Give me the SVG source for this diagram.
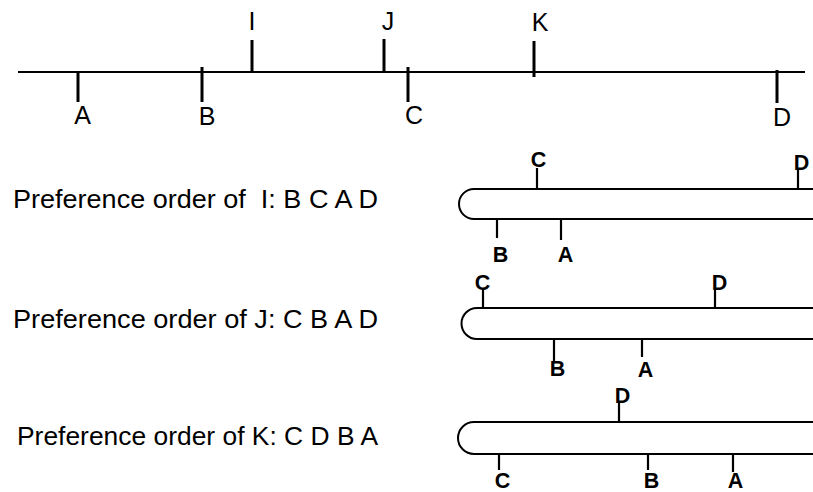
<svg xmlns="http://www.w3.org/2000/svg" width="813" height="492" viewBox="0 0 813 492">
<style>
.ln{stroke:#000;stroke-width:2;fill:none}
.tk{stroke:#000;stroke-width:3;fill:none}
.tk2{stroke:#000;stroke-width:2.2;fill:none}
.lb{font-family:"Liberation Sans",Arial,sans-serif;font-size:25px;fill:#000;text-anchor:middle}
.hl{font-family:"Liberation Sans",Arial,sans-serif;font-size:21.5px;font-weight:bold;fill:#000;text-anchor:middle}
.pt{font-family:"Liberation Sans",Arial,sans-serif;font-size:25px;fill:#000}
</style>
<rect width="813" height="492" fill="#fff"/>
<g id="axis">
<line class="ln" x1="18" y1="72" x2="805" y2="72"/>
<g id="A"><line class="tk" x1="78" y1="71" x2="78" y2="102"/><text class="lb" x="82.5" y="124">A</text></g>
<g id="B"><line class="tk" x1="202" y1="67" x2="202" y2="102"/><text class="lb" x="207" y="125">B</text></g>
<g id="I"><line class="tk" x1="252" y1="40" x2="252" y2="73"/><text class="lb" x="252" y="30">I</text></g>
<g id="J"><line class="tk" x1="384" y1="39" x2="384" y2="73"/><text class="lb" x="388" y="30">J</text></g>
<g id="C"><line class="tk" x1="408" y1="67" x2="408" y2="102"/><text class="lb" x="414" y="124">C</text></g>
<g id="K"><line class="tk" x1="534" y1="41" x2="534" y2="77"/><text class="lb" x="540" y="31">K</text></g>
<g id="D"><line class="tk" x1="777" y1="70" x2="777" y2="103"/><text class="lb" x="782" y="126">D</text></g>
</g>
<g id="prefI">
<text class="pt" x="13" y="208" textLength="365" lengthAdjust="spacingAndGlyphs" xml:space="preserve">Preference order of  I: B C A D</text>
<path class="ln" d="M813,189 H474 A15,15 0 0 0 474,219 H813"/>
<line class="tk2" x1="537" y1="168" x2="537" y2="189"/><text class="hl" x="538.5" y="167">C</text>
<line class="tk2" x1="798" y1="170" x2="798" y2="189"/><text class="hl" x="801.5" y="170">D</text>
<line class="tk2" x1="497" y1="219" x2="497" y2="238"/><text class="hl" x="500.5" y="262">B</text>
<line class="tk2" x1="561" y1="218" x2="561" y2="240"/><text class="hl" x="565.5" y="262">A</text>
</g>
<g id="prefJ">
<text class="pt" x="13" y="328" textLength="365" lengthAdjust="spacingAndGlyphs">Preference order of J: C B A D</text>
<path class="ln" d="M813,308 H477 A15.5,15.5 0 0 0 477,339 H813"/>
<line class="tk2" x1="483" y1="290" x2="483" y2="308"/><text class="hl" x="482.5" y="290">C</text>
<line class="tk2" x1="715" y1="290" x2="715" y2="308"/><text class="hl" x="719.5" y="290">D</text>
<line class="tk2" x1="554" y1="339" x2="554" y2="363"/><text class="hl" x="557.5" y="376">B</text>
<line class="tk2" x1="642" y1="339" x2="642" y2="357"/><text class="hl" x="645.5" y="377">A</text>
</g>
<g id="prefK">
<text class="pt" x="17" y="445" textLength="361" lengthAdjust="spacingAndGlyphs">Preference order of K: C D B A</text>
<path class="ln" d="M813,422 H474 A16,16 0 0 0 474,454 H813"/>
<line class="tk2" x1="619" y1="403" x2="619" y2="422"/><text class="hl" x="622.5" y="403">D</text>
<line class="tk2" x1="499" y1="454" x2="499" y2="470"/><text class="hl" x="502.5" y="488">C</text>
<line class="tk2" x1="648" y1="454" x2="648" y2="470"/><text class="hl" x="651.5" y="488">B</text>
<line class="tk2" x1="733" y1="454" x2="733" y2="472"/><text class="hl" x="735.5" y="488">A</text>
</g>
</svg>
